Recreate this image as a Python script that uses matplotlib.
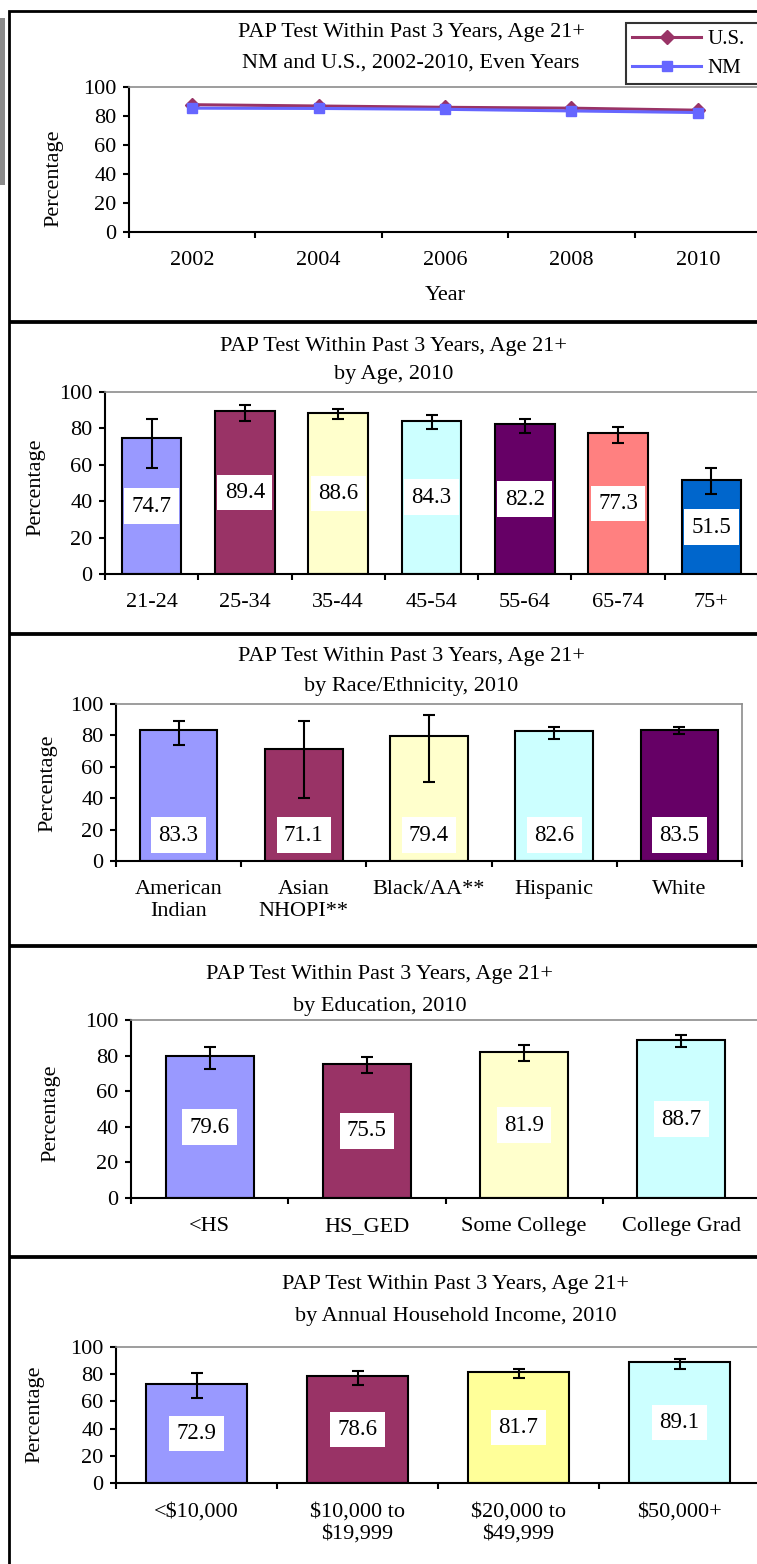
import numpy as np
import matplotlib
matplotlib.use("Agg")
import matplotlib.pyplot as plt
from matplotlib.patches import Rectangle

plt.rcParams['font.family'] = ['Liberation Serif', 'DejaVu Serif']

# ---- data -----------------------------------------------------------------
years = ['2002', '2004', '2006', '2008', '2010']
us_pct = [87.8, 86.9, 86.0, 85.4, 84.0]
nm_pct = [85.4, 85.2, 84.6, 83.5, 82.4]

age_groups = ['21-24', '25-34', '35-44', '45-54', '55-64', '65-74', '75+']
age_pct = [74.7, 89.4, 88.6, 84.3, 82.2, 77.3, 51.5]
age_lo = [58.2, 84.2, 85.2, 79.8, 77.5, 72.1, 44.1]
age_hi = [85.2, 92.7, 90.5, 87.2, 85.2, 80.8, 58.2]

race_groups = ['American\nIndian', 'Asian\nNHOPI**', 'Black/AA**', 'Hispanic', 'White']
race_pct = [83.3, 71.1, 79.4, 82.6, 83.5]
race_lo = [74.1, 40.1, 50.3, 77.7, 80.7]
race_hi = [89.0, 89.0, 92.8, 85.4, 85.4]

edu_groups = ['<HS', 'HS_GED', 'Some College', 'College Grad']
edu_pct = [79.6, 75.5, 81.9, 88.7]
edu_lo = [72.5, 70.4, 77.0, 84.7]
edu_hi = [84.9, 79.2, 86.0, 91.4]

inc_groups = ['<\\$10,000', '\\$10,000 to\n\\$19,999', '\\$20,000 to\n\\$49,999', '\\$50,000+']
inc_pct = [72.9, 78.6, 81.7, 89.1]
inc_lo = [62.3, 72.4, 77.1, 84.0]
inc_hi = [81.2, 82.7, 84.0, 91.4]

# ---- layout helpers (pixel based) ------------------------------------------
W, H = 757, 1564
fig = plt.figure(figsize=(W / 100, H / 100), dpi=100)

TITLE1 = "PAP Test Within Past 3 Years, Age 21+"
FS_TITLE = 16
FS_TICK = 16
FS_LABEL = 16
FS_VALUE = 16.5


def add_ax(left, top, right, bottom):
    return fig.add_axes([left / W, 1 - bottom / H, (right - left) / W, (bottom - top) / H])


def panel_box(top, bottom):
    fig.patches.append(Rectangle((9 / W, 1 - bottom / H), 1.0, (bottom - top) / H,
                                 transform=fig.transFigure, fill=False,
                                 edgecolor='black', linewidth=2))


def titles(cx, y1, y2, line2):
    fig.text(cx / W, 1 - y1 / H, TITLE1, ha='center', va='center', fontsize=FS_TITLE)
    fig.text(cx / W, 1 - y2 / H, line2, ha='center', va='center', fontsize=FS_TITLE)


def style_axes(ax, labels, ylab_x, ylab_y):
    n = len(labels)
    ax.set_xlim(-0.5, n - 0.5)
    ax.set_ylim(0, 100)
    ax.set_yticks(range(0, 101, 20))
    ax.set_xticks(range(n))
    ax.set_xticklabels(labels, fontsize=FS_TICK)
    ax.set_xticks(np.arange(n + 1) - 0.5, minor=True)
    ax.tick_params(axis='x', which='major', length=0, pad=14)
    ax.tick_params(axis='x', which='minor', length=4, width=1.5, direction='out')
    ax.tick_params(axis='y', length=4, width=1.5, direction='out', pad=5, labelsize=FS_TICK)
    for s in ['top', 'right']:
        ax.spines[s].set_color('#8c8c8c')
        ax.spines[s].set_linewidth(1.2)
    for s in ['left', 'bottom']:
        ax.spines[s].set_linewidth(1.5)
    ax.set_ylabel('Percentage', fontsize=FS_LABEL)
    ax.yaxis.set_label_coords(ylab_x / W, 1 - ylab_y / H, transform=fig.transFigure)
    ax.yaxis.label.set_va('center')


def bar_panel(ax, labels, vals, lo, hi, colors, width, label_pos='center'):
    x = np.arange(len(vals))
    vals = np.array(vals)
    err = [vals - np.array(lo), np.array(hi) - vals]
    ax.bar(x, vals, width=width, color=colors, edgecolor='black', linewidth=1.5, zorder=1)
    ax.errorbar(x, vals, yerr=err, fmt='none', ecolor='black', elinewidth=1.5,
                capsize=4.5, capthick=1.5, zorder=3)
    for xi, v in zip(x, vals):
        ypos = v / 2 if label_pos == 'center' else 16.5
        ax.text(xi, ypos, '%.1f' % v, ha='center', va='center', fontsize=FS_VALUE, zorder=4,
                bbox=dict(boxstyle='square,pad=0.32', facecolor='white', edgecolor='none'))


# ---- panel frames ----------------------------------------------------------
panel_box(11, 321)
panel_box(322, 633)
panel_box(634, 945)
panel_box(946, 1256)
panel_box(1257, 1575)
fig.patches.append(Rectangle((0, 1 - 185 / H), 5 / W, 167 / H, transform=fig.transFigure,
                             facecolor='#8a8a8a', edgecolor='none'))

# ---- panel 1: trend --------------------------------------------------------
ax1 = add_ax(129, 87, 761, 232)
x = np.arange(len(years))
ax1.plot(x, us_pct, color='#993366', marker='D', markersize=7, linewidth=2.2, label='U.S.')
ax1.plot(x, nm_pct, color='#6666FF', marker='s', markersize=7, linewidth=2.2, label='NM')
style_axes(ax1, years, 54, 178)
ax1.set_xlabel('Year', fontsize=FS_LABEL, labelpad=11)
titles(411, 33, 63, "NM and U.S., 2002-2010, Even Years")
leg = fig.legend(loc='upper left', bbox_to_anchor=(626 / W, 1 - 83 / H, 200 / W, 60 / H),
                 mode='expand', fontsize=15, frameon=True, fancybox=False,
                 handlelength=3.3, handletextpad=0.3, labelspacing=0.45, borderpad=0.3,
                 borderaxespad=0)
leg.get_frame().set_edgecolor('black')
leg.get_frame().set_linewidth(1.5)

# ---- panel 2: age ----------------------------------------------------------
ax2 = add_ax(105, 392, 758, 574)
bar_panel(ax2, age_groups, age_pct, age_lo, age_hi,
          ['#9999FF', '#993366', '#FFFFCC', '#CCFFFF', '#660066', '#FF8080', '#0066CC'], 0.64)
style_axes(ax2, age_groups, 36, 487)
titles(394, 347, 375, "by Age, 2010")

# ---- panel 3: race/ethnicity -----------------------------------------------
ax3 = add_ax(116, 704, 742, 861)
bar_panel(ax3, race_groups, race_pct, race_lo, race_hi,
          ['#9999FF', '#993366', '#FFFFCC', '#CCFFFF', '#660066'], 0.62, label_pos='base')
style_axes(ax3, race_groups, 48, 783)
titles(411, 656, 687, "by Race/Ethnicity, 2010")

# ---- panel 4: education ----------------------------------------------------
ax4 = add_ax(131, 1020, 760, 1198)
bar_panel(ax4, edu_groups, edu_pct, edu_lo, edu_hi,
          ['#9999FF', '#993366', '#FFFFCC', '#CCFFFF'], 0.56)
style_axes(ax4, edu_groups, 51, 1113)
titles(380, 974, 1006, "by Education, 2010")

# ---- panel 5: income -------------------------------------------------------
ax5 = add_ax(116, 1347, 760, 1483)
bar_panel(ax5, inc_groups, inc_pct, inc_lo, inc_hi,
          ['#9999FF', '#993366', '#FFFF99', '#CCFFFF'], 0.63)
style_axes(ax5, inc_groups, 35, 1414)
titles(456, 1284, 1316, "by Annual Household Income, 2010")

fig.savefig('out.png', dpi=100)
